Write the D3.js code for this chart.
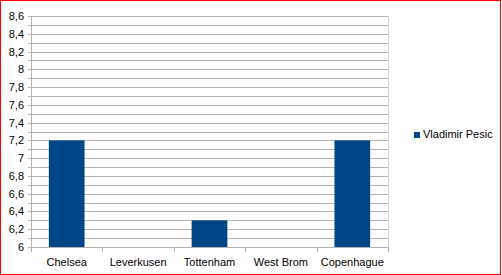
<!DOCTYPE html>
<html>
<head>
<meta charset="utf-8">
<script src="https://cdn.jsdelivr.net/npm/d3@7"></script>
<style>
  body { margin: 0; background: #fff; }
  svg text { font-family: "Liberation Sans", Arial, sans-serif; font-size: 11px; fill: #000; }
</style>
</head>
<body>
<svg id="chart" width="502" height="275"></svg>
<script>
// chart data
const categories = ["Chelsea", "Leverkusen", "Tottenham", "West Brom", "Copenhague"];
const values = [7.2, null, 6.3, null, 7.2];
const seriesName = "Vladimir Pesic";
const yTicks = [6, 6.2, 6.4, 6.6, 6.8, 7, 7.2, 7.4, 7.6, 7.8, 8, 8.2, 8.4, 8.6];

const svg = d3.select("#chart");
const plotLeft = 31, plotRight = 388, plotTop = 16, plotBottom = 247;

// red frame
svg.append("rect")
  .attr("x", 0.5).attr("y", 0.5)
  .attr("width", 500).attr("height", 274)
  .attr("fill", "none").attr("stroke", "#ff0000");

const x = d3.scaleBand().domain(categories).range([plotLeft, plotRight]).paddingInner(0).paddingOuter(0);
const y = d3.scaleLinear().domain([6, 8.6]).range([plotBottom, plotTop]);

// gridlines every 0.1
const gridVals = d3.range(0, 27).map(i => 6 + i * 0.1);
svg.append("g").selectAll("line")
  .data(gridVals)
  .enter().append("line")
  .attr("x1", plotLeft - 3).attr("x2", plotRight)
  .attr("y1", d => Math.round(y(d)) + 0.5)
  .attr("y2", d => Math.round(y(d)) + 0.5)
  .attr("stroke", "#b3b3b3");

// y axis line
svg.append("line")
  .attr("x1", plotLeft + 0.5).attr("x2", plotLeft + 0.5)
  .attr("y1", plotTop).attr("y2", plotBottom + 1)
  .attr("stroke", "#b3b3b3");
svg.append("line")
  .attr("x1", plotRight + 0.5).attr("x2", plotRight + 0.5)
  .attr("y1", plotTop).attr("y2", plotBottom + 1)
  .attr("stroke", "#d0d0d0");

// y labels
svg.append("g").selectAll("text")
  .data(yTicks)
  .enter().append("text")
  .attr("x", 24)
  .attr("y", d => y(d) + 4)
  .attr("text-anchor", "end")
  .text(d => String(Math.round(d * 10) / 10).replace(".", ","));

// category ticks
const bounds = categories.map(c => x(c)).concat([plotRight]);
svg.append("g").selectAll("line")
  .data(bounds)
  .enter().append("line")
  .attr("x1", d => Math.round(d) + 0.5).attr("x2", d => Math.round(d) + 0.5)
  .attr("y1", plotBottom).attr("y2", plotBottom + 5)
  .attr("stroke", "#b3b3b3");

// bars
svg.append("g").selectAll("rect")
  .data(categories.map((c, i) => ({ c, v: values[i] })).filter(d => d.v != null))
  .enter().append("rect")
  .attr("x", d => x(d.c) + x.bandwidth() / 4)
  .attr("width", x.bandwidth() / 2)
  .attr("y", d => y(d.v))
  .attr("height", d => y(6) - y(d.v))
  .attr("fill", "#004586");

// category labels
svg.append("g").selectAll("text")
  .data(categories)
  .enter().append("text")
  .attr("x", d => x(d) + x.bandwidth() / 2)
  .attr("y", 266)
  .attr("text-anchor", "middle")
  .text(d => d);

// legend
svg.append("rect")
  .attr("x", 414).attr("y", 132)
  .attr("width", 6).attr("height", 6)
  .attr("fill", "#004586");
svg.append("text")
  .attr("x", 423).attr("y", 138)
  .text(seriesName);
</script>
</body>
</html>
